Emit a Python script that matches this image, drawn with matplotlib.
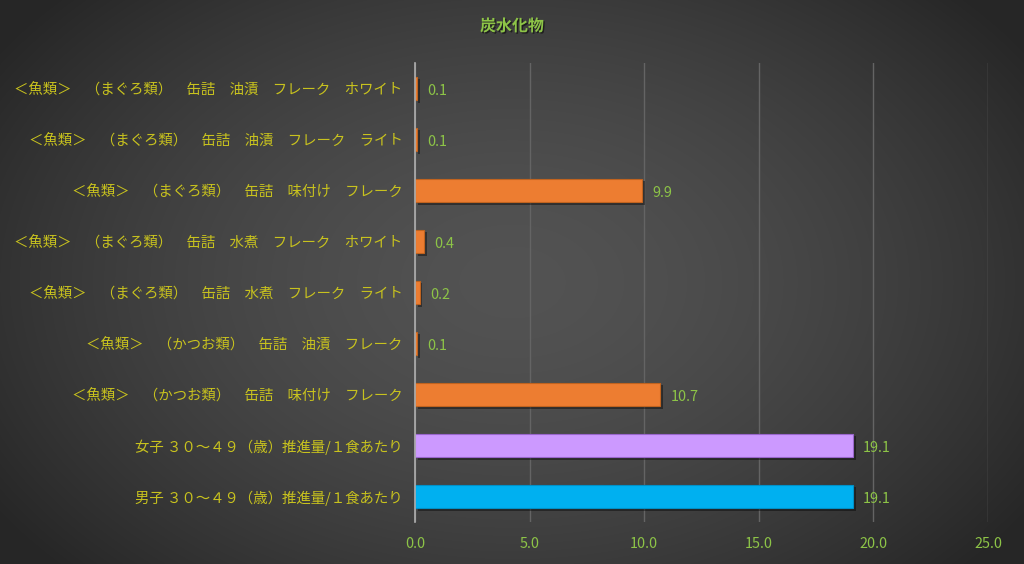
import numpy as np
import matplotlib
matplotlib.use("Agg")
import matplotlib.pyplot as plt
import matplotlib.patheffects as pe

plt.rcParams['font.family'] = ['Noto Sans CJK JP', 'DejaVu Sans']

title = "炭水化物"
categories = [
    "＜魚類＞　（まぐろ類）　缶詰　油漬　フレーク　ホワイト",
    "＜魚類＞　（まぐろ類）　缶詰　油漬　フレーク　ライト",
    "＜魚類＞　（まぐろ類）　缶詰　味付け　フレーク",
    "＜魚類＞　（まぐろ類）　缶詰　水煮　フレーク　ホワイト",
    "＜魚類＞　（まぐろ類）　缶詰　水煮　フレーク　ライト",
    "＜魚類＞　（かつお類）　缶詰　油漬　フレーク",
    "＜魚類＞　（かつお類）　缶詰　味付け　フレーク",
    "女子 ３０～４９（歳）推進量/１食あたり",
    "男子 ３０～４９（歳）推進量/１食あたり",
]
values = [0.1, 0.1, 9.9, 0.4, 0.2, 0.1, 10.7, 19.1, 19.1]
bar_colors = ["#ED7D31"] * 7 + ["#CC99FF", "#00B0F0"]
edge_colors = ["#C0631F"] * 7 + ["#9966CC", "#0090C8"]
xticks = [0, 5, 10, 15, 20, 25]

fig = plt.figure(figsize=(10.24, 5.64), dpi=100)

# radial gradient background
bg = fig.add_axes([0, 0, 1, 1], zorder=-10)
yy, xx = np.mgrid[0:564, 0:1024]
cx, cy = 512, 282
r = np.sqrt(((xx - cx) / 620.0) ** 2 + ((yy - cy) / 420.0) ** 2)
r = np.clip(r, 0, 1)
lum = 0.325 - (0.325 - 0.15) * r ** 1.6
img = np.dstack([lum, lum, lum])
bg.imshow(img, aspect='auto', extent=[0, 1, 0, 1], origin='upper')
bg.set_axis_off()

ax = fig.add_axes([415 / 1024, 1 - 522 / 564, (988 - 415) / 1024, (522 - 63) / 564])
ax.set_facecolor('none')
ypos = np.arange(len(categories))
bars = ax.barh(ypos, values, height=0.47, color=bar_colors, edgecolor=edge_colors,
               linewidth=0.8, zorder=3)
for b in bars:
    b.set_path_effects([pe.SimplePatchShadow(offset=(2, -2), shadow_rgbFace='black', alpha=0.4),
                        pe.Normal()])

ax.set_ylim(len(categories) - 0.5, -0.5)
ax.set_xlim(0, 25)
ax.set_xticks(xticks)
ax.set_xticklabels([f"{t:.1f}" for t in xticks])
ax.set_yticks(ypos)
ax.set_yticklabels(categories)
ax.tick_params(axis='y', length=0, pad=9, labelcolor='#C8C21E', labelsize=10.4)
ax.tick_params(axis='x', length=0, pad=11, labelcolor='#8DC447', labelsize=10.4)
ax.grid(axis='x', color='#646464', linewidth=1, zorder=0)
for s in ['top', 'right', 'bottom']:
    ax.spines[s].set_visible(False)
ax.spines['left'].set_color('#B0B0B0')
ax.spines['left'].set_linewidth(1.2)
ax.spines['left'].set_zorder(4)

for y, v in zip(ypos, values):
    ax.annotate(f"{v:.1f}", xy=(v, y), xytext=(7.5, -1.5), textcoords='offset points',
                ha='left', va='center', color='#8DC447', fontsize=10.4)

fig.text(0.5, 1 - 26 / 564, title, ha='center', va='center', color='#8DC447',
         fontsize=11.5, fontweight='bold',
         path_effects=[pe.withSimplePatchShadow(offset=(1, -1), shadow_rgbFace='black', alpha=0.5)])

fig.savefig("out.png", dpi=100)
